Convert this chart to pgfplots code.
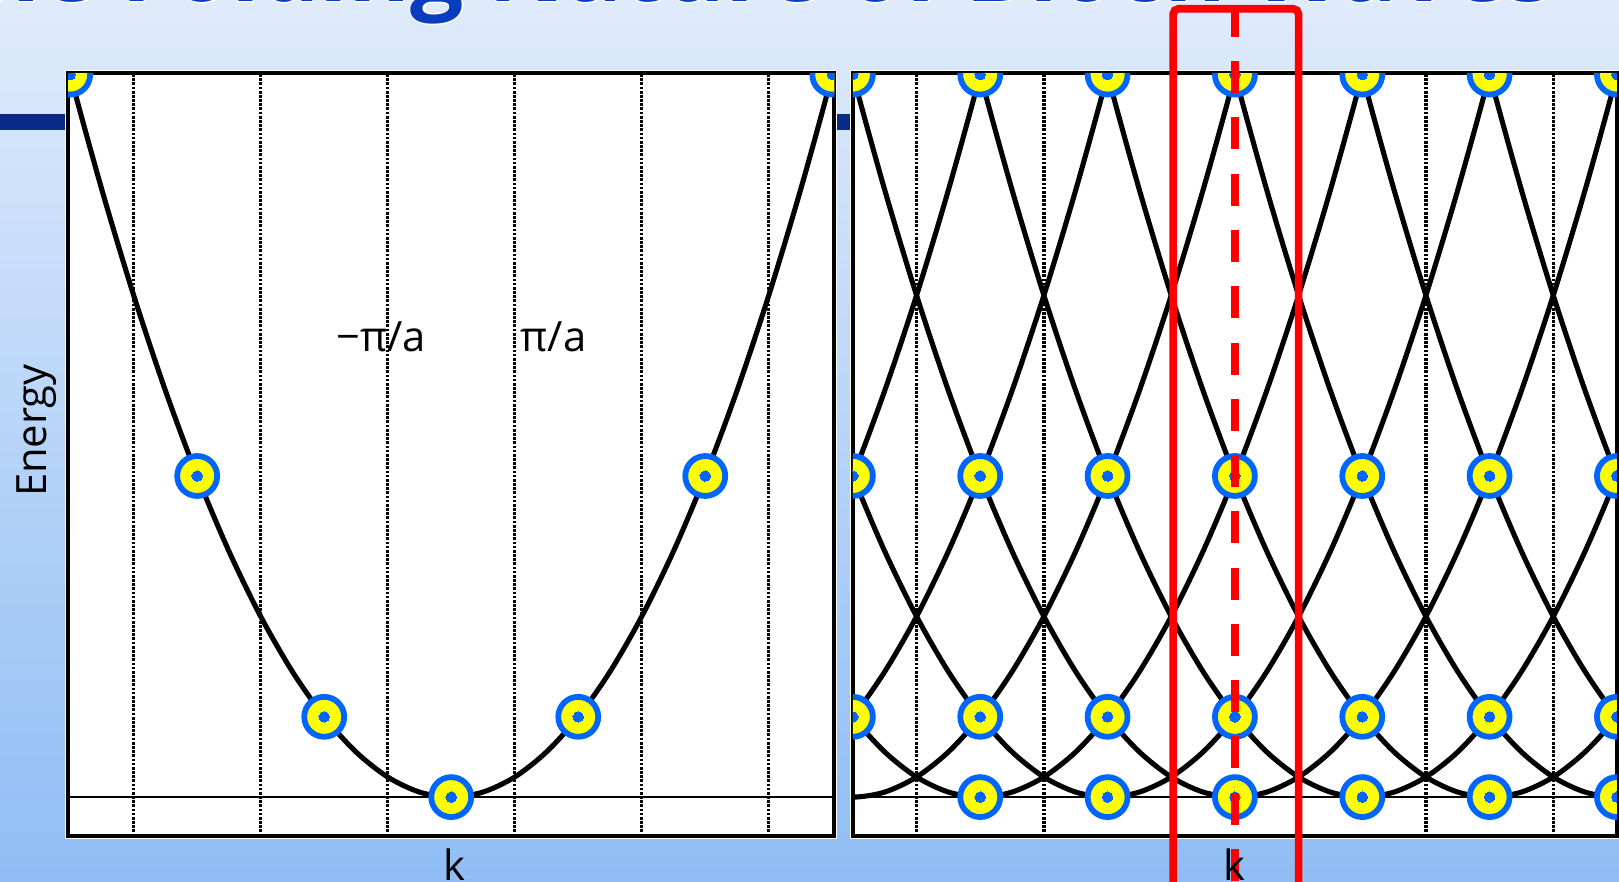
\documentclass[border=0pt]{standalone}
\usepackage{pgfplots}
\pgfplotsset{compat=1.18}
\usepackage{pgfplotstable}
\usepackage{fontspec}
\setmainfont{Open Sans}
\newfontfamily\titlehalo{Open Sans Bold}[FakeBold=3]

\definecolor{ringblue}{HTML}{0066FF}
\definecolor{dotyellow}{HTML}{FFFF00}
\definecolor{barnavy}{HTML}{0A2A88}
\definecolor{bgtop}{HTML}{DFEBFB}
\definecolor{bgbot}{HTML}{8FBDF4}
\definecolor{titleblue}{HTML}{0A3CC0}

% free-electron dispersion E = k^2 (k in units of G, E in units of E(G))
\pgfplotstableread{
k      E
-3.25  10.5625
-3.00  9
-2.75  7.5625
-2.50  6.25
-2.25  5.0625
-2.00  4
-1.75  3.0625
-1.50  2.25
-1.25  1.5625
-1.00  1
-0.75  0.5625
-0.50  0.25
-0.25  0.0625
 0.00  0
 0.25  0.0625
 0.50  0.25
 0.75  0.5625
 1.00  1
 1.25  1.5625
 1.50  2.25
 1.75  3.0625
 2.00  4
 2.25  5.0625
 2.50  6.25
 2.75  7.5625
 3.00  9
 3.25  10.5625
}\parab

% states at reciprocal lattice points, extended zone
\pgfplotstableread{
k  E
-3 9
-2 4
-1 1
 0 0
 1 1
 2 4
 3 9
}\latticeleft

% the same states folded back, repeated zone
\pgfplotstableread{
k  E
-3 9
-3 4
-3 1
-2 9
-2 4
-2 1
-2 0
-1 9
-1 4
-1 1
-1 0
 0 9
 0 4
 0 1
 0 0
 1 9
 1 4
 1 1
 1 0
 2 9
 2 4
 2 1
 2 0
 3 9
 3 4
 3 1
 3 0
}\latticeright

\pgfplotsset{
  bandpanel/.style={
    scale only axis, height=7.39cm,
    ymin=-0.489, ymax=9.016,
    xtick=\empty, ytick=\empty,
    axis line style={black, line width=1.05pt},
    axis background/.style={fill=white},
    clip marker paths=true,
    extra x ticks={-2.5,-1.5,-0.5,0.5,1.5,2.5},
    extra x tick labels={},
    extra x tick style={grid=major, major tick length=0pt,
      major grid style={black, line width=0.9pt, dash pattern=on 0.75pt off 0.4pt}},
  },
  band/.style={black, line width=1.4pt, smooth, no marks},
  zeroline/.style={black, line width=0.6pt, no marks},
  ring/.style={only marks, mark=*, mark size=5.5pt,
    mark options={fill=dotyellow, draw=ringblue, line width=1.6pt}},
  core/.style={only marks, mark=*, mark size=1.45pt,
    mark options={fill=ringblue, draw=ringblue, line width=0pt}},
}

\newcommand{\titletext}{The Folding Nature of Bloch Waves}
\newcommand{\lblfont}{\fontsize{11.5}{14}\selectfont}

\begin{document}
\begin{tikzpicture}
\useasboundingbox (0,0) rectangle (15.68,8.54);
\clip (0,0) rectangle (15.68,8.54);

% slide background
\shade[top color=bgtop, bottom color=bgbot] (0,0) rectangle (15.68,8.54);
\fill[barnavy] (0,7.28) rectangle (15.68,7.44);

% title: white halo under the blue lettering
\node[anchor=base west, inner sep=0, text=white, font=\titlehalo\fontsize{26}{31}\selectfont]
  at (-0.74,8.53) {\titletext};
\node[anchor=base west, inner sep=0, text=titleblue, font=\bfseries\fontsize{26}{31}\selectfont]
  at (-0.74,8.53) {\titletext};

% white frames round the panels
\fill[white] (0.63,0.41) rectangle (8.11,7.86);
\fill[white] (8.23,0.41) rectangle (15.69,7.86);

% extended zone
\begin{axis}[bandpanel, at={(0.66cm,0.44cm)}, anchor=south west,
  width=7.42cm, xmin=-3.016, xmax=3.016]
  \addplot[zeroline] coordinates {(-3.2,0) (3.2,0)};
  \addplot[band] table[x=k, y=E] {\parab};
  \addplot[ring] table[x=k, y=E] {\latticeleft};
  \addplot[core] table[x=k, y=E] {\latticeleft};
  \node[anchor=base east, inner sep=0, font=\lblfont] at (axis cs:-0.195,5.55) {−π/a};
  \node[anchor=base west, inner sep=0, font=\lblfont] at (axis cs:0.541,5.55) {π/a};
\end{axis}

% repeated zone: the parabola shifted by every reciprocal lattice vector
\begin{axis}[bandpanel, at={(8.26cm,0.44cm)}, anchor=south west,
  width=7.40cm, xmin=-3, xmax=3]
  \addplot[zeroline] coordinates {(-3.2,0) (3.2,0)};
  \pgfplotsinvokeforeach{-6,...,6}{
    \addplot[band] table[x expr=\thisrow{k}+#1, y=E] {\parab};
  }
  \addplot[ring] table[x=k, y=E] {\latticeright};
  \addplot[core] table[x=k, y=E] {\latticeright};
  \coordinate (bzLt) at (axis cs:-0.485,9.82);
  \coordinate (bzRt) at (axis cs:0.5,9.82);
  \coordinate (bzLb) at (axis cs:-0.485,-1.4);
  \coordinate (bzRb) at (axis cs:0.5,-1.4);
  \coordinate (k0t) at (axis cs:0,9.868);
  \coordinate (k0b) at (axis cs:0,-1.4);
\end{axis}

% first Brillouin zone
\draw[red, line width=2.1pt, rounded corners=1.5pt] (bzLb) -- (bzLt) -- (bzRt) -- (bzRb);
\draw[red, line width=2.3pt, dash pattern=on 0.31cm off 0.235cm] (k0t) -- (k0b);

% axis labels
\node[rotate=90, anchor=base, inner sep=0, font=\lblfont] at (0.45,4.37) {Energy};
\node[anchor=base, inner sep=0, font=\lblfont] at (4.40,0.01) {k};
\node[anchor=base, inner sep=0, font=\lblfont] at (11.96,0.01) {k};
\end{tikzpicture}
\end{document}
